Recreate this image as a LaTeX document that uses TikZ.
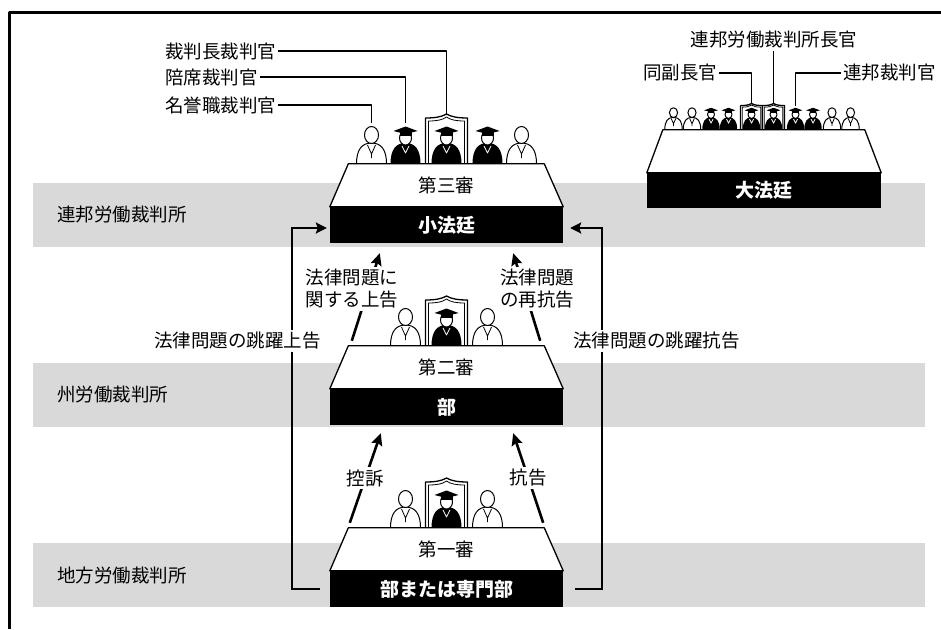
\documentclass[tikz,border=0pt]{standalone}
\usepackage{fontspec}
\setmainfont{Noto Sans CJK JP}
\usetikzlibrary{calc,positioning,arrows.meta}

\definecolor{bandgray}{RGB}{217,217,217}

% figures on the benches (drawn standing on y=0, y grows downwards)
\tikzset{
  lay judge/.pic={
    \draw[fill=white,line width=1pt] (-15,0) .. controls (-15,-14) and (-10,-21) .. (0,-21) .. controls (10,-21) and (15,-14) .. (15,0) -- cycle;
    \draw[line width=0.8pt] (-4,-19) -- (0,-10) -- (4,-19) (0,-10) -- (0,-6);
    \draw[fill=white,line width=1pt] (0,-29) ellipse [x radius=7, y radius=8.5];
    \coordinate (-top) at (0,-41);
  },
  judge/.pic={
    \fill (-15,0) .. controls (-15,-14) and (-10,-21) .. (0,-21) .. controls (10,-21) and (15,-14) .. (15,0) -- cycle;
    \draw[white,line width=0.8pt] (-3.5,-18) -- (0,-11) -- (3.5,-18);
    \draw[fill=white,line width=1pt] (0,-26) ellipse [x radius=6, y radius=7];
    \fill (-6,-33) rectangle (6,-28.5);
    \fill (-12,-33) -- (0,-37.5) -- (12,-33) -- (0,-30) -- cycle;
    \coordinate (-top) at (0,-41);
  },
  throne/.pic={
    \draw[fill=white,line width=1.3pt] (-21,0) -- (-21,-46) .. controls (-12,-46) and (-5,-47) .. (0,-50) .. controls (5,-47) and (12,-46) .. (21,-46) -- (21,0);
    \draw[line width=0.8pt] (-18,0) -- (-18,-43) .. controls (-10,-43) and (-4,-44) .. (0,-47) .. controls (4,-44) and (10,-43) .. (18,-43) -- (18,0);
    \coordinate (-top) at (0,-50);
  }
}

\begin{document}
\begin{tikzpicture}[x=1pt,y=-1pt,line join=round,
  every node/.style={inner sep=2pt,font=\fontsize{18.5}{22}\selectfont},
  chamber/.style={fill=black,text=white,inner sep=0pt,minimum width=233pt,minimum height=36pt,
    font=\fontsize{19}{22}\selectfont\bfseries},
  desk/.style={draw,fill=white,line width=1.3pt},
  leader/.style={line width=1.3pt},
  appeal/.style={line width=2.6pt,-{Stealth[length=12pt,width=11pt,inset=2pt]}},
  leap/.style={line width=2.4pt,line join=miter,-{Stealth[length=11pt,width=11pt,inset=2pt]}},
  lbl/.style={fill=white}]
\useasboundingbox (0,0) rectangle (941,629);

% court levels
\foreach \y in {183,363,543}
  \fill[bandgray] (33,\y) rectangle (925,\y+64);
\node[anchor=west] (bag) at (55,215) {連邦労働裁判所};
\node[anchor=west] (lag) at (55,395) {州労働裁判所};
\node[anchor=west] (ag) at (55,575) {地方労働裁判所};

\draw[line width=2.8pt] (9.5,629) |- (941,12.5);

% lower benches
\node[chamber] (senat) at (446.5,225) {小法廷};
\node[chamber] (kammer2) at (446.5,407) {部};
\node[chamber] (kammer1) at (446.5,589) {部または専門部};

% appeals
\draw[appeal] ($(kammer1.north west)+(20,-48)$) -- ($(kammer2.south west)+(51,8)$) node[pos=0.5,lbl] (berufung) {控訴};
\draw[appeal] ($(kammer1.north east)+(-20,-48)$) -- ($(kammer2.south east)+(-50,8)$) node[pos=0.5,lbl] (beschwerde) {抗告};
\draw[appeal] ($(kammer2.north west)+(22,-48)$) -- ($(senat.south west)+(50,10)$);
\node[lbl,align=center] (revision) at (352,289) {法律問題に\\関する上告};
\draw[appeal] ($(kammer2.north east)+(-23,-48)$) -- ($(senat.south east)+(-50,10)$);
\node[lbl,align=center] (rechtsb) at (537,289) {法律問題\\の再抗告};

\draw[leap] ($(kammer1.west)+(-10,0)$) -- ++(-28,0) |- ($(senat.west)+(-3,3)$);
\node[lbl,anchor=east] (sprungL) at (323,341) {法律問題の跳躍上告};
\draw[leap] ($(kammer1.east)+(12,0)$) -- ++(27,0) |- ($(senat.east)+(7,3)$);
\node[lbl,anchor=west] (sprungR) at (571,341) {法律問題の跳躍抗告};

% judges of the three instances
\pic (hon3) at (371.5,164) {lay judge};
\pic (ass3) at (405.5,164) {judge};
\pic (thr3) at (446.5,164) {throne};
\pic at (446.5,164) {judge};
\pic at (487.5,164) {judge};
\pic at (521.5,164) {lay judge};
\foreach \y in {346,528} {
  \pic at (405.5,\y) {lay judge};
  \pic at (446.5,\y) {throne};
  \pic at (446.5,\y) {judge};
  \pic at (487.5,\y) {lay judge};
}

\foreach \k/\t in {senat/第三審,kammer2/第二審,kammer1/第一審} {
  \draw[desk] (\k.north west) -- ++(18.5,-43) -- ++(196,0) -- (\k.north east) -- cycle;
  \node (\k-title) at ($(\k.north)+(0,-21.5)$) {\t};
}

\node[anchor=west] (chief) at (163,51) {裁判長裁判官};
\node[anchor=west] (assoc) at (163,77) {陪席裁判官};
\node[anchor=west] (honor) at (163,105) {名誉職裁判官};
\draw[leader] (chief.east) -| (thr3-top);
\draw[leader] (assoc.east) -| (ass3-top);
\draw[leader] (honor.east) -| (hon3-top);

% great senate
\node[chamber,minimum width=234pt,minimum height=35pt] (grsenat) at (764,190.5) {大法廷};
\foreach \x in {673.5,692,832,850.5}
  \pic[scale=0.58] at (\x,129.5) {lay judge};
\foreach \x in {711,728.5,813}
  \pic[scale=0.58] at (\x,129.5) {judge};
\pic[scale=0.58] (fedj) at (795.5,129.5) {judge};
\pic[scale=0.52] (thrL) at (751.5,129.5) {throne};
\pic[scale=0.52] (thrR) at (773.5,129.5) {throne};
\pic[scale=0.58] at (751.5,129.5) {judge};
\pic[scale=0.58] at (773.5,129.5) {judge};
\draw[desk] (grsenat.north west) -- ++(16,-43) -- ++(202,0) -- (grsenat.north east) -- cycle;

\node (pres) at (774,40) {連邦労働裁判所長官};
\node (vice) at (680,73) {同副長官};
\node[anchor=west] (fed) at (841,73) {連邦裁判官};
\draw[leader] (pres.south -| thrR-top) -- (thrR-top);
\draw[leader] (vice.east) -| (thrL-top);
\draw[leader] (fed.west) -| (fedj-top);
\end{tikzpicture}
\end{document}
